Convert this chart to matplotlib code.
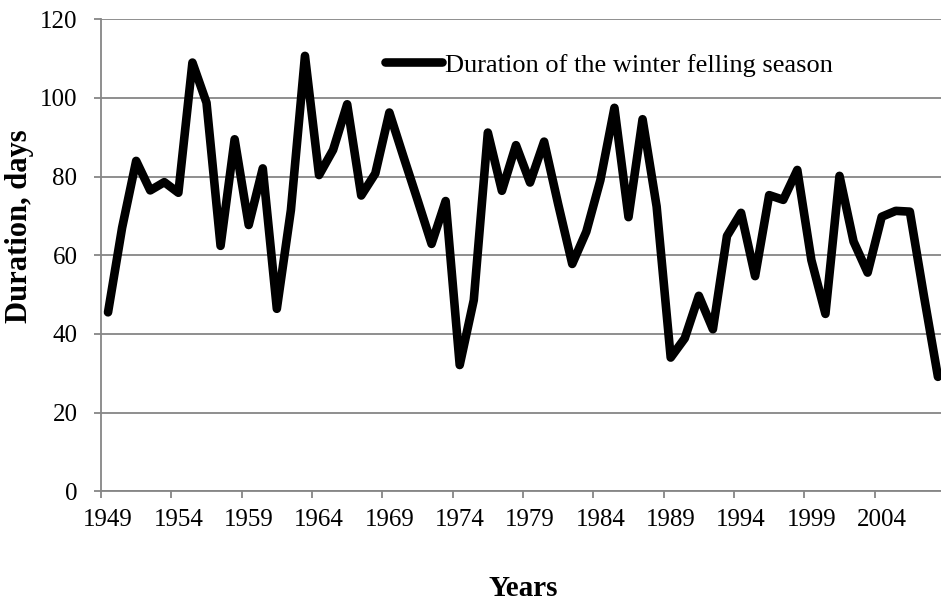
import matplotlib
matplotlib.use("Agg")
import matplotlib.pyplot as plt
import numpy as np

years = list(range(1949, 2009))
duration = [45.5, 67, 84, 76.5, 78.6, 75.9, 109, 98.8, 62.4, 89.5,
            67.7, 82.1, 46.4, 71.5, 110.7, 80.4, 86.8, 98.4, 75.2, 80.8,
            96.3, 85.1, 74.1, 62.9, 73.8, 32.1, 48.6, 91.2, 76.4, 88.0,
            78.5, 88.9, 73.0, 57.8, 66.0, 79.1, 97.5, 69.7, 94.6, 72.4,
            34.0, 38.9, 49.7, 41.2, 64.9, 70.8, 54.7, 75.3, 74.1, 81.7,
            58.8, 45.1, 80.2, 63.5, 55.6, 69.8, 71.3, 71.1, 49.7, 29.1]
tick_years = list(range(1949, 2005, 5))
y_ticks = [0, 20, 40, 60, 80, 100, 120]
series_label = "Duration of the winter felling season"

plt.rcParams['font.family'] = ['Liberation Serif', 'DejaVu Serif']

W, H = 941, 601
fig = plt.figure(figsize=(W / 100, H / 100), dpi=100)
x0, x1 = 101, 945
y0, y1 = 491.3, 19.3
ax = fig.add_axes([x0 / W, (H - y0) / H, (x1 - x0) / W, (y0 - y1) / H])

grid_c = '#868686'
ax.plot(years, duration, color='black', lw=6.2, solid_capstyle='round',
        solid_joinstyle='round', label=series_label, zorder=3)

ax.set_xlim(years[0] - 0.5, years[-1] + 0.5)
ax.set_ylim(0, 120)
ax.set_yticks(y_ticks)
ax.yaxis.grid(True, color=grid_c, lw=1.3)
ax.set_axisbelow(True)

ax.set_xticks(tick_years)
ax.set_xticklabels([str(y) for y in tick_years])
ax.set_xticks([y - 0.5 for y in range(1949, 2010, 5)], minor=True)
ax.tick_params(axis='x', which='major', length=0, pad=13, labelsize=18)
ax.tick_params(axis='x', which='minor', length=5, width=1.3, color=grid_c, direction='out')
ax.tick_params(axis='y', length=5, width=1.3, color=grid_c, pad=12, labelsize=18)

for s in ['top', 'right']:
    ax.spines[s].set_visible(False)
for s in ['left', 'bottom']:
    ax.spines[s].set_color(grid_c)
    ax.spines[s].set_linewidth(1.3)

fig.text(20 / W, (H - 226) / H, "Duration, days", fontsize=22, fontweight='bold',
         rotation=90, ha='center', va='center')
fig.text(523 / W, (H - 596) / H, "Years", fontsize=21, fontweight='bold',
         ha='center', va='baseline')

ax.legend(loc='center left', bbox_to_anchor=(385 / W, (H - 65) / H),
          bbox_transform=fig.transFigure, frameon=False, fontsize=19,
          borderpad=0, borderaxespad=0, handlelength=2.15, handletextpad=0.12)

fig.savefig("out.png", dpi=100)
